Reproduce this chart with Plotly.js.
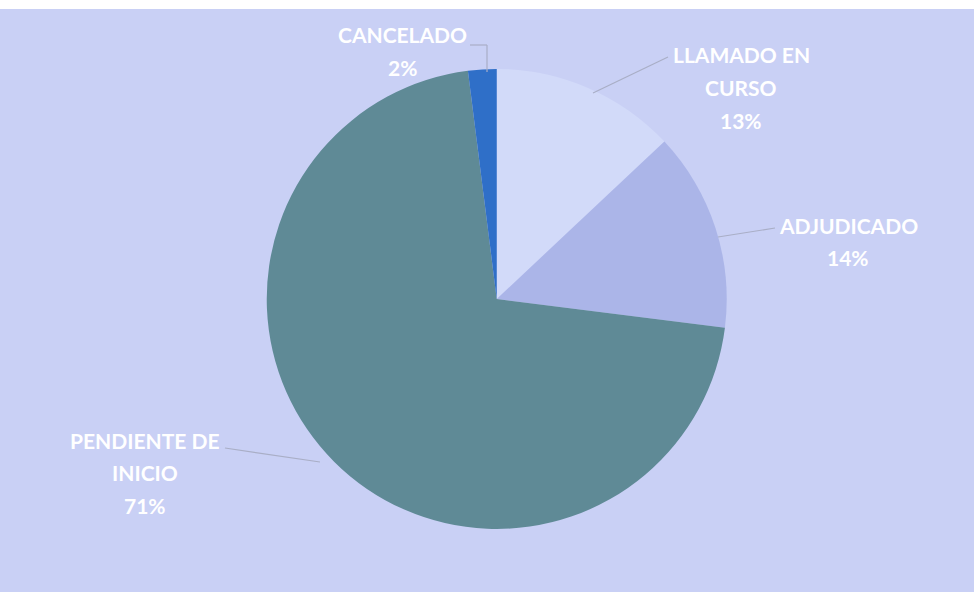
<!DOCTYPE html>
<html>
<head>
<meta charset="utf-8">
<script src="https://cdn.plot.ly/plotly-3.0.1.min.js"></script>
<style>html,body{margin:0;padding:0;background:#fff;}#chart{width:974px;height:592px;}</style>
</head>
<body>
<div id="chart"></div>
<script>
const labels = ['LLAMADO EN CURSO', 'ADJUDICADO', 'PENDIENTE DE INICIO', 'CANCELADO'];
const labelLines = [['LLAMADO EN', 'CURSO'], ['ADJUDICADO'], ['PENDIENTE DE', 'INICIO'], ['CANCELADO']];
const values = [13, 14, 71, 2];
const colors = ['#d2daf9', '#abb5e8', '#5f8a96', '#2f6fc8'];

const W = 974, H = 592;
const total = values.reduce((a, b) => a + b, 0);
const pct = values.map(v => Math.round(v / total * 100) + '%');

// label block placement (pixels: center x, first line y) and leader lines
const labelPos = [[741, 55], [848, 225], [145, 440], [402, 35]];
const lineStep = 32.5;
const leaders = [
  [[593, 93], [668, 57]],
  [[718, 237], [775, 228]],
  [[225, 448], [320, 462]],
  [[470, 45], [487, 45], [487, 72]]
];
const px = x => x / W, py = y => 1 - y / H;

const annotations = [];
labels.forEach((l, i) => {
  const lines = labelLines[i].concat([pct[i]]);
  lines.forEach((t, k) => {
    annotations.push({
      xref: 'paper', yref: 'paper',
      x: px(labelPos[i][0]), y: py(labelPos[i][1] + k * lineStep),
      xanchor: 'center', yanchor: 'middle',
      text: t, showarrow: false,
      font: {family: 'Lato, "Open Sans", sans-serif', size: 21, color: '#ffffff', weight: 'bold'}
    });
  });
});

const shapes = [{
  type: 'rect', xref: 'paper', yref: 'paper', x0: 0, x1: 1, y0: py(9), y1: 1,
  fillcolor: '#ffffff', line: {width: 0}, layer: 'below'
}];
leaders.forEach(pts => {
  for (let k = 0; k < pts.length - 1; k++) {
    shapes.push({
      type: 'line', xref: 'paper', yref: 'paper',
      x0: px(pts[k][0]), y0: py(pts[k][1]), x1: px(pts[k + 1][0]), y1: py(pts[k + 1][1]),
      line: {color: '#a9aec6', width: 1.2}
    });
  }
});

const trace = {
  type: 'pie',
  labels: labels,
  values: values,
  sort: false,
  direction: 'clockwise',
  rotation: 0,
  marker: {colors: colors, line: {width: 0}},
  textinfo: 'none',
  hoverinfo: 'label+percent',
  domain: {x: [0.2, 0.82], y: [py(529), py(69)]},
  showlegend: false
};

Plotly.newPlot('chart', [trace], {
  width: W, height: H,
  margin: {l: 0, r: 0, t: 0, b: 0},
  paper_bgcolor: '#c9d0f5',
  showlegend: false,
  annotations: annotations,
  shapes: shapes
}, {displayModeBar: false, staticPlot: true});
</script>
</body>
</html>
